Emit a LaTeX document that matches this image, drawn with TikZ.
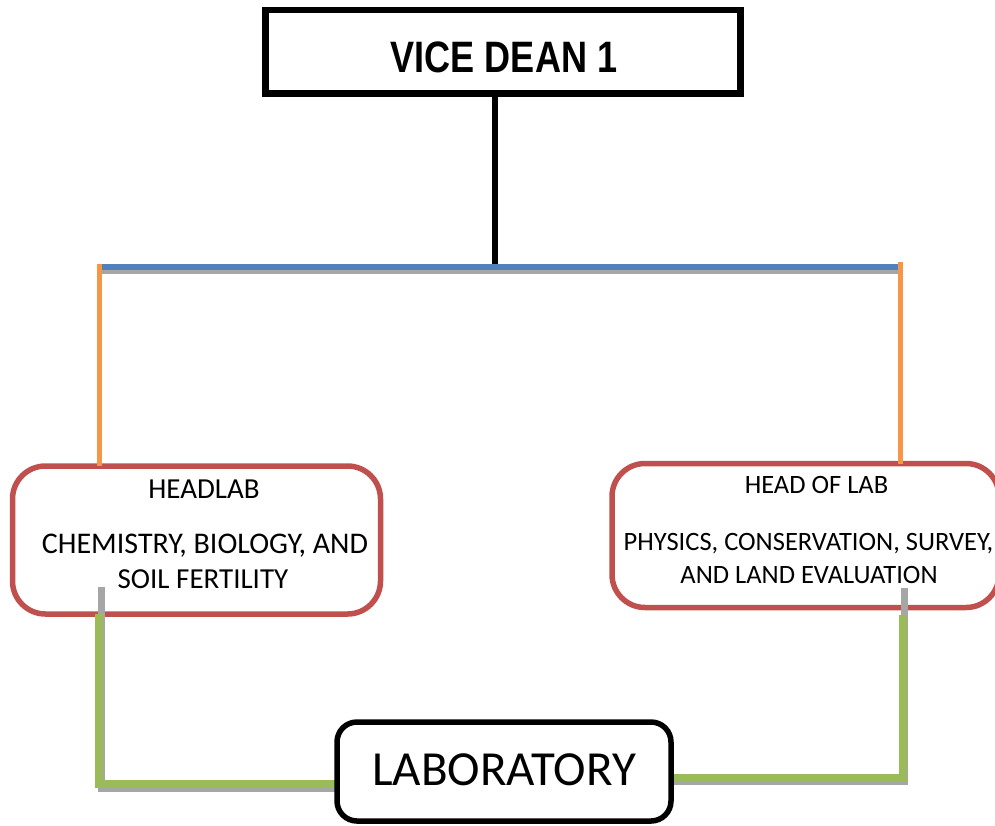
\documentclass[tikz,border=0pt]{standalone}
\usepackage{fontspec}
\usetikzlibrary{calc}
\newfontfamily\headfont[FakeStretch=0.82]{Liberation Sans}
\newfontfamily\calfont{Carlito}
\definecolor{boxred}{HTML}{C0504D}
\definecolor{linkorange}{HTML}{F79646}
\definecolor{linkblue}{HTML}{4F81BD}
\definecolor{linkgreen}{HTML}{9BBB59}
\definecolor{shadowgrey}{HTML}{A6A6A6}
\tikzset{
  topbox/.style={draw=black, line width=6.5pt, minimum width=475pt, minimum height=83.3pt, inner sep=0pt, outer sep=0pt},
  redbox/.style={draw=boxred, line width=5.5pt, rounded corners=33pt, inner sep=0pt, outer sep=0pt},
  labbox/.style={draw=black, line width=5.5pt, rounded corners=20pt, fill=white, minimum width=334pt, minimum height=99pt, inner sep=0pt, outer sep=0pt},
  txtline/.style={anchor=base, inner sep=0pt, font=\calfont\fontsize{29}{34}\selectfont},
  txtlineR/.style={anchor=base, inner sep=0pt, font=\calfont\fontsize{26.5}{32}\selectfont},
  blackline/.style={draw=black, line width=6pt},
  blueline/.style={draw=linkblue, line width=6pt},
  orangeline/.style={draw=linkorange, line width=5.5pt},
  greenline/.style={draw=linkgreen, line width=7.5pt},
  shadowline/.style={draw=shadowgrey, line width=7.5pt},
}
\begin{document}
\begin{tikzpicture}[x=1pt, y=-1pt]
\useasboundingbox (0,0) rectangle (995,825);

% boxes
\node[topbox] (vd) at (503,51.7) {};
\node[anchor=base, inner sep=0pt, font=\headfont\bfseries\fontsize{44}{50}\selectfont] (vdt) at (504,72) {VICE DEAN 1};

\node[redbox, minimum width=368pt, minimum height=148pt] (hl) at (196.5,540) {};
\node[txtline] (hl1) at (204,498) {HEADLAB};
\node[txtline, font=\calfont\fontsize{30}{34}\selectfont] (hl2) at (205,553) {CHEMISTRY, BIOLOGY, AND};
\node[txtline] (hl3) at (203,588) {SOIL FERTILITY};

\node[redbox, minimum width=387pt, minimum height=144pt] (hr) at (805.5,535.5) {};
\node[txtlineR] (hr1) at (816.5,493.5) {HEAD OF LAB};
\node[txtlineR] (hr2) at (808.5,550) {PHYSICS, CONSERVATION, SURVEY,};
\node[txtlineR] (hr3) at (809,583.5) {AND LAND EVALUATION};

% junction coordinates
\coordinate (j) at (494.5,267);
\coordinate (bl) at (99.5,267);
\coordinate (br) at (900.5,267);
\coordinate (lc) at (99,784);
\coordinate (rc) at (903,778);

% top connectors
\draw[blackline] (vd.south -| j) -- (j);
\draw[shadowline, line width=6pt] ($(bl)+(2.5,4)$) -- ($(br)+(-2.5,4)$);
\draw[blueline] ($(bl)+(2.5,0)$) -- ($(br)+(-2.5,0)$);
\draw[orangeline] ($(bl)+(0,-3)$) -- (hl.north -| bl);
\draw[orangeline] ($(br)+(0,-5)$) -- (hr.north -| br);

% bottom connectors
\draw[shadowline] ($(hl.south -| lc)+(2.5,-27)$) |- ($(lc -| 335,0)+(0,4.5)$);
\draw[greenline] (hl.south -| lc) |- (lc -| 337,0);
\draw[shadowline] ($(hr.south -| rc)+(1.5,-19.5)$) |- ($(rc -| 673,0)+(0,3.5)$);
\draw[greenline] ($(hr.south -| rc)+(0,7.5)$) |- (rc -| 671,0);

% laboratory
\node[labbox] (lab) at (504,771.5) {};
\node[anchor=base, inner sep=0pt, font=\calfont\fontsize{49}{58}\selectfont] (labt) at (504,785) {LABORATORY};
\end{tikzpicture}
\end{document}
